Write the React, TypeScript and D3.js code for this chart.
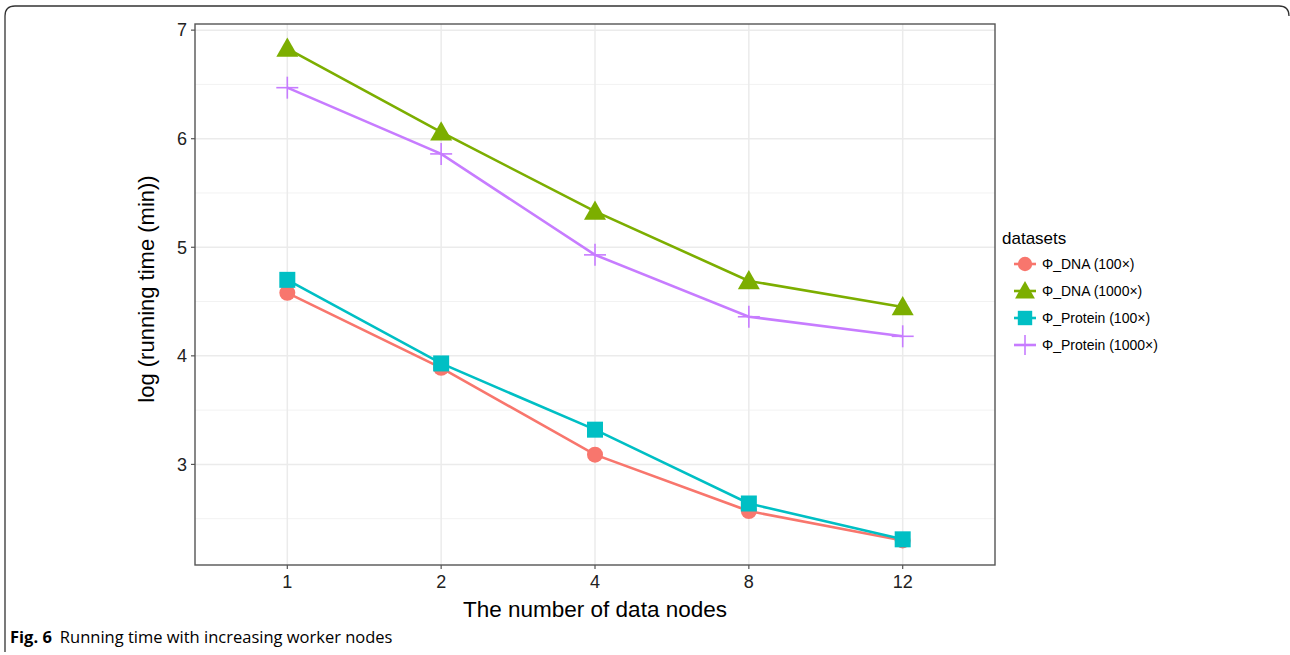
import * as d3 from 'd3'

// x categories (number of data nodes) and series values
const NODES = ['1', '2', '4', '8', '12']
const DNA_100 = [4.58, 3.89, 3.09, 2.57, 2.30]
const DNA_1000 = [6.83, 6.06, 5.33, 4.69, 4.45]
const PROTEIN_100 = [4.70, 3.93, 3.32, 2.64, 2.31]
const PROTEIN_1000 = [6.47, 5.86, 4.93, 4.36, 4.18]
const SERIES_NAMES = ['Φ_DNA (100×)', 'Φ_DNA (1000×)', 'Φ_Protein (100×)', 'Φ_Protein (1000×)']
const Y_TICKS = [3, 4, 5, 6, 7]
const Y_MINOR = [2.5, 3.5, 4.5, 5.5, 6.5]

const COLORS = ['#F8766D', '#7CAE00', '#00BFC4', '#C77CFF']
const SHAPES = ['circle', 'triangle', 'square', 'cross']

const W = 1290
const H = 655
const PANEL = { left: 195, right: 995, top: 24, bottom: 565 }
const FONT = '"Liberation Sans", Arial, sans-serif'

function Marker({ shape, x, y, color, scale = 1 }: { shape: string; x: number; y: number; color: string; scale?: number }) {
  if (shape === 'circle') return <circle cx={x} cy={y} r={8 * scale} fill={color} />
  if (shape === 'square') return <rect x={x - 8 * scale} y={y - 8 * scale} width={16 * scale} height={16 * scale} fill={color} />
  if (shape === 'triangle') {
    const s = 11 * scale
    return <path d={`M${x},${y - s}L${x + s},${y + s * 0.75}L${x - s},${y + s * 0.75}Z`} fill={color} />
  }
  const s = 11 * scale
  return (
    <g stroke={color} strokeWidth={1.6}>
      <line x1={x - s} x2={x + s} y1={y} y2={y} />
      <line x1={x} x2={x} y1={y - s} y2={y + s} />
    </g>
  )
}

export default function App() {
  const series = [DNA_100, DNA_1000, PROTEIN_100, PROTEIN_1000]

  const x = d3.scalePoint<string>().domain(NODES).range([PANEL.left, PANEL.right]).padding(0.6)
  const all = series.flat()
  const lo = d3.min(all)!
  const hi = d3.max(all)!
  const pad = (hi - lo) * 0.05
  const y = d3.scaleLinear().domain([lo - pad, hi + pad]).range([PANEL.bottom, PANEL.top])

  const line = d3.line<number>()
    .x((_, i) => x(NODES[i])!)
    .y((d) => y(d))

  const legendY = [264, 291, 318, 345]

  return (
    <svg width={W} height={H} style={{ position: 'absolute', left: 0, top: 0, background: '#fff' }}>
      {/* outer figure frame */}
      <path d={`M5,652 L5,16 Q5,6 15,6 L1279,6 Q1289,6 1289,16`} fill="none" stroke="#333" strokeWidth={1.3} />

      {/* grid */}
      {Y_MINOR.map((v) => (
        <line key={'m' + v} x1={PANEL.left} x2={PANEL.right} y1={y(v)} y2={y(v)} stroke="#F2F2F2" strokeWidth={1} />
      ))}
      {Y_TICKS.map((v) => (
        <line key={'g' + v} x1={PANEL.left} x2={PANEL.right} y1={y(v)} y2={y(v)} stroke="#EBEBEB" strokeWidth={1.5} />
      ))}
      {NODES.map((n) => (
        <line key={'v' + n} x1={x(n)} x2={x(n)} y1={PANEL.top} y2={PANEL.bottom} stroke="#EBEBEB" strokeWidth={1.5} />
      ))}

      {/* lines and points */}
      {series.map((s, i) => (
        <path key={'l' + i} d={line(s)!} fill="none" stroke={COLORS[i]} strokeWidth={2.6} />
      ))}
      {series.map((s, i) =>
        s.map((v, j) => <Marker key={`p${i}-${j}`} shape={SHAPES[i]} x={x(NODES[j])!} y={y(v)} color={COLORS[i]} />)
      )}

      {/* panel border */}
      <rect x={PANEL.left} y={PANEL.top} width={PANEL.right - PANEL.left} height={PANEL.bottom - PANEL.top}
        fill="none" stroke="#555" strokeWidth={1.4} />

      {/* y axis */}
      {Y_TICKS.map((v) => (
        <g key={'yt' + v}>
          <line x1={PANEL.left - 4} x2={PANEL.left} y1={y(v)} y2={y(v)} stroke="#555" strokeWidth={1.2} />
          <text x={PANEL.left - 8} y={y(v)} dy="0.35em" textAnchor="end" fontFamily={FONT} fontSize={18} fill="#222">{v}</text>
        </g>
      ))}
      {/* x axis */}
      {NODES.map((n) => (
        <g key={'xt' + n}>
          <line x1={x(n)} x2={x(n)} y1={PANEL.bottom} y2={PANEL.bottom + 4} stroke="#555" strokeWidth={1.2} />
          <text x={x(n)} y={PANEL.bottom + 23} textAnchor="middle" fontFamily={FONT} fontSize={18} fill="#222">{n}</text>
        </g>
      ))}

      <text x={595} y={617} textAnchor="middle" fontFamily={FONT} fontSize={22.5} fill="#000">
        The number of data nodes
      </text>
      <text transform="translate(154,289) rotate(-90)" textAnchor="middle"
        fontFamily={FONT} fontSize={22} fill="#000">
        log (running time (min))
      </text>

      {/* legend */}
      <text x={1002} y={244} fontFamily={FONT} fontSize={17} fill="#000">datasets</text>
      {SERIES_NAMES.map((name, i) => (
        <g key={'lg' + i}>
          <line x1={1014} x2={1036} y1={legendY[i]} y2={legendY[i]} stroke={COLORS[i]} strokeWidth={2.6} />
          <Marker shape={SHAPES[i]} x={1025} y={legendY[i]} color={COLORS[i]} scale={0.9} />
          <text x={1042} y={legendY[i]} dy="0.35em" fontFamily={FONT} fontSize={14} fill="#000">{name}</text>
        </g>
      ))}

      {/* caption */}
      <text x={10} y={643} fontFamily='"Open Sans", sans-serif' fontSize={16.5} fill="#000">
        <tspan fontWeight="bold">Fig. 6</tspan>
        <tspan dx={8}>Running time with increasing worker nodes</tspan>
      </text>
    </svg>
  )
}
